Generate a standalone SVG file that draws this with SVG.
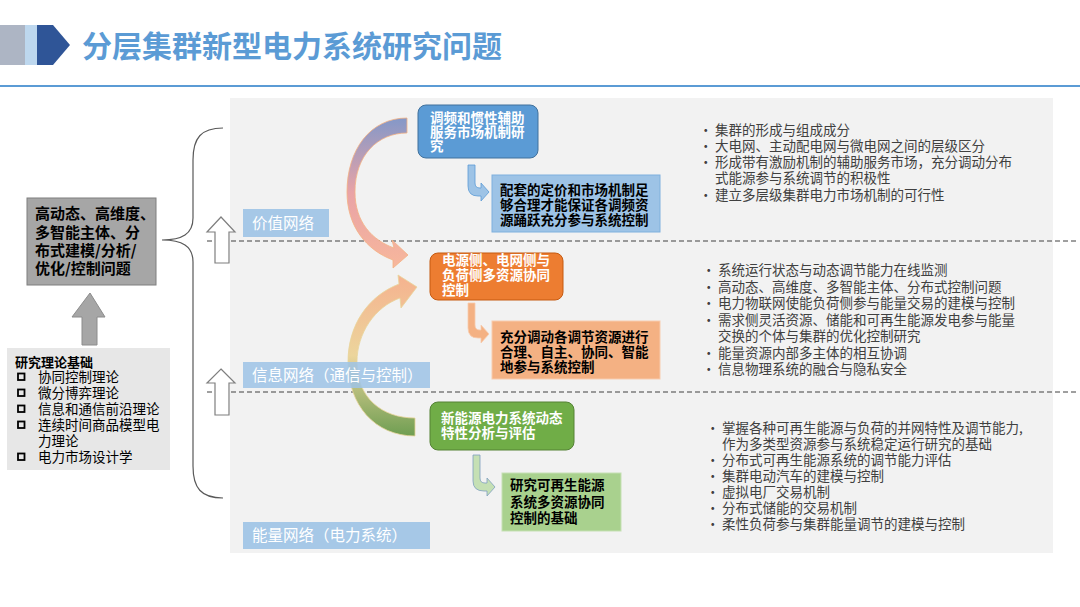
<svg xmlns="http://www.w3.org/2000/svg" width="1080" height="607" viewBox="0 0 1080 607">
<defs>
<style>
text{font-family:"Noto Sans CJK SC","Noto Sans",sans-serif}
.title{font-size:30px;font-weight:bold;fill:#5b9bd5}
.wb{font-size:13.5px;font-weight:bold;fill:#ffffff}
.kb{font-size:13.5px;font-weight:bold;fill:#000000}
.bl{font-size:13.5px;fill:#404040}
.lbl{font-size:15.5px;fill:#ffffff}
.dash{stroke:#404040;stroke-width:1;stroke-dasharray:5,3;fill:none}
.hollow{fill:#ffffff;stroke:#7f7f7f;stroke-width:1.2}
</style>
<linearGradient id="g1" x1="0" y1="0" x2="0" y2="1">
<stop offset="0" stop-color="#8498c8"/>
<stop offset="0.5" stop-color="#e9a3a6"/>
<stop offset="1" stop-color="#f7b79c"/>
</linearGradient>
<linearGradient id="g2" x1="0" y1="1" x2="0" y2="0">
<stop offset="0" stop-color="#6f9e52"/>
<stop offset="0.5" stop-color="#ecd59c"/>
<stop offset="1" stop-color="#f5b28f"/>
</linearGradient>
</defs>
<rect width="1080" height="607" fill="#ffffff"/>
<g id="header">
<rect x="0" y="25" width="25" height="40" fill="#adb5c4"/>
<rect x="25" y="25" width="12" height="40" fill="#bdd7ee"/>
<polygon points="37,25 53,25 70,45 53,65 37,65" fill="#2f5597"/>
<text class="title" x="82" y="57">分层集群新型电力系统研究问题</text>
<line x1="0" y1="86" x2="1080" y2="86" stroke="#5b9bd5" stroke-width="2"/>
</g>
<rect id="panel" x="230" y="98" width="823" height="455" fill="#f2f2f2"/>
<g id="layers">
<line class="dash" x1="207" y1="241" x2="1078" y2="241"/>
<line class="dash" x1="207" y1="392" x2="1078" y2="392"/>
</g>
<g id="connectors">
<path d="M223,128 C201,128 193,138 193,160 L193,218 C193,234 182,240 162,240 C182,240 193,246 193,262 L193,466 C193,488 201,498 223,498" fill="none" stroke="#595959" stroke-width="1.2"/>
<polygon class="hollow" points="221,217 235,232 229,232 229,263 215,263 215,232 207,232"/>
<polygon class="hollow" points="221,369 235,383 229,383 229,415 215,415 215,383 207,383"/>
<polygon points="90,293 105,317 97,317 97,345 82,345 82,317 72,317" fill="#a6a6a6" stroke="#8c8c8c" stroke-width="1"/>
<path d="M407,118 C370,118 347,150 347,192 C347,226 366,250 393,260 L393,268 L408,255 L392,240 L394,248 C372,240 355,222 355,192 C355,155 378,133 407,133 Z" fill="url(#g1)" stroke="#f4b183" stroke-width="0.8"/>
<path d="M415,436 C375,436 348,405 348,362 C348,325 368,296 399,284 L398,275 L417,287 L401,308 L400,298 C375,307 357,333 357,362 C357,398 382,418 415,418 Z" fill="url(#g2)" stroke="#e8d49a" stroke-width="0.8"/>
<path d="M468,165 L475,165 L475,183 Q475,188 480,188 L481,188 L481,183 L489,192 L481,201 L481,196 L478,196 Q468,196 468,186 Z" fill="#9dc3e6" stroke="#5b9bd5" stroke-width="0.8"/>
<path d="M468,303 L475,303 L475,325 Q475,330 480,330 L481,330 L481,325 L489,334 L481,343 L481,338 L478,338 Q468,338 468,328 Z" fill="#f4b183" stroke="#f8cbad" stroke-width="0.8"/>
<path d="M473,455 L480,455 L480,478 Q480,483 485,483 L487,483 L487,478 L495,487 L487,496 L487,491 L484,491 Q473,491 473,481 Z" fill="#c5e0b4" stroke="#7f9fbf" stroke-width="0.8"/>
</g>
<g id="label-value">
<rect x="243" y="209" width="86" height="28" fill="#9dc3e6" fill-opacity="0.9"/>
<text class="lbl" x="252" y="229">价值网络</text>
</g>
<g id="label-info">
<rect x="243" y="362" width="187" height="26" fill="#9dc3e6" fill-opacity="0.85"/>
<text class="lbl" x="252" y="381">信息网络（通信与控制）</text>
</g>
<g id="label-energy">
<rect x="243" y="522" width="187" height="27" fill="#9dc3e6" fill-opacity="0.9"/>
<text class="lbl" x="252" y="541">能量网络（电力系统）</text>
</g>
<g id="problem">
<rect x="27" y="198" width="129" height="87" fill="#a6a6a6" stroke="#7f7f7f" stroke-width="1"/>
<text x="35" y="219" style="font-size:15px;font-weight:bold;fill:#000">高动态、高维度、</text>
<text x="35" y="237.5" style="font-size:15px;font-weight:bold;fill:#000">多智能主体、分</text>
<text x="35" y="256" style="font-size:15px;font-weight:bold;fill:#000">布式建模/分析/</text>
<text x="35" y="274" style="font-size:15px;font-weight:bold;fill:#000">优化/控制问题</text>
</g>
<g id="theory">
<rect x="7" y="348" width="163" height="122" fill="#e7e7e7"/>
<text x="15" y="367" style="font-size:13px;font-weight:bold;fill:#000">研究理论基础</text>
<g fill="none" stroke="#000" stroke-width="1.8">
<rect x="18" y="373.5" width="6.5" height="6.5"/>
<rect x="18" y="389.5" width="6.5" height="6.5"/>
<rect x="18" y="405.5" width="6.5" height="6.5"/>
<rect x="18" y="421.5" width="6.5" height="6.5"/>
<rect x="18" y="453.5" width="6.5" height="6.5"/>
</g>
<text x="38" y="382" style="font-size:13.5px;fill:#000">协同控制理论</text>
<text x="38" y="398" style="font-size:13.5px;fill:#000">微分博弈理论</text>
<text x="38" y="414" style="font-size:13.5px;fill:#000">信息和通信前沿理论</text>
<text x="38" y="430" style="font-size:13.5px;fill:#000">连续时间商品模型电</text>
<text x="38" y="446" style="font-size:13.5px;fill:#000">力理论</text>
<text x="38" y="462" style="font-size:13.5px;fill:#000">电力市场设计学</text>
</g>
<g id="market">
<rect x="418" y="105" width="120" height="53" rx="8" fill="#5b9bd5" stroke="#41719c" stroke-width="1"/>
<text class="wb" x="430" y="123">调频和惯性辅助</text>
<text class="wb" x="430" y="137">服务市场机制研</text>
<text class="wb" x="430" y="151">究</text>
</g>
<g id="pricing">
<rect x="492" y="175" width="168" height="57" fill="#9dc3e6" stroke="#7fb0dd" stroke-width="1"/>
<text class="kb" x="500" y="195">配套的定价和市场机制足</text>
<text class="kb" x="500" y="210">够合理才能保证各调频资</text>
<text class="kb" x="500" y="225">源踊跃充分参与系统控制</text>
</g>
<g id="coord">
<rect x="430" y="253" width="133" height="47" rx="8" fill="#ed7d31" stroke="#c55a11" stroke-width="1"/>
<text class="wb" x="442" y="265">电源侧、电网侧与</text>
<text class="wb" x="442" y="280">负荷侧多资源协同</text>
<text class="wb" x="442" y="295">控制</text>
</g>
<g id="dispatch">
<rect x="492" y="321" width="168" height="58" fill="#f4b183" stroke="#f8cbad" stroke-width="1"/>
<text class="kb" x="500" y="342">充分调动各调节资源进行</text>
<text class="kb" x="500" y="357">合理、自主、协同、智能</text>
<text class="kb" x="500" y="372">地参与系统控制</text>
</g>
<g id="dynamics">
<rect x="430" y="402" width="144" height="48" rx="8" fill="#70ad47" stroke="#548235" stroke-width="1"/>
<text class="wb" x="441" y="423">新能源电力系统动态</text>
<text class="wb" x="441" y="438">特性分析与评估</text>
</g>
<g id="renewable">
<rect x="502" y="473" width="119" height="58" fill="#a9d18e" stroke="#c5e0b4" stroke-width="1"/>
<text class="kb" x="510" y="490">研究可再生能源</text>
<text class="kb" x="510" y="507">系统多资源协同</text>
<text class="kb" x="510" y="523">控制的基础</text>
</g>
<g id="bullets-value">
<text class="bl" x="699" y="135">•</text><text class="bl" x="715" y="135">集群的形成与组成成分</text>
<text class="bl" x="699" y="151">•</text><text class="bl" x="715" y="151">大电网、主动配电网与微电网之间的层级区分</text>
<text class="bl" x="699" y="167">•</text><text class="bl" x="715" y="167">形成带有激励机制的辅助服务市场，充分调动分布</text>
<text class="bl" x="715" y="183">式能源参与系统调节的积极性</text>
<text class="bl" x="699" y="200">•</text><text class="bl" x="715" y="200">建立多层级集群电力市场机制的可行性</text>
</g>
<g id="bullets-info">
<text class="bl" x="702" y="275">•</text><text class="bl" x="718" y="275">系统运行状态与动态调节能力在线监测</text>
<text class="bl" x="702" y="292">•</text><text class="bl" x="718" y="292">高动态、高维度、多智能主体、分布式控制问题</text>
<text class="bl" x="702" y="308">•</text><text class="bl" x="718" y="308">电力物联网使能负荷侧参与能量交易的建模与控制</text>
<text class="bl" x="702" y="325">•</text><text class="bl" x="718" y="325">需求侧灵活资源、储能和可再生能源发电参与能量</text>
<text class="bl" x="718" y="341">交换的个体与集群的优化控制研究</text>
<text class="bl" x="702" y="358">•</text><text class="bl" x="718" y="358">能量资源内部多主体的相互协调</text>
<text class="bl" x="702" y="374">•</text><text class="bl" x="718" y="374">信息物理系统的融合与隐私安全</text>
</g>
<g id="bullets-energy">
<text class="bl" x="706" y="433">•</text><text class="bl" x="722" y="433">掌握各种可再生能源与负荷的并网特性及调节能力,</text>
<text class="bl" x="722" y="449">作为多类型资源参与系统稳定运行研究的基础</text>
<text class="bl" x="706" y="465">•</text><text class="bl" x="722" y="465">分布式可再生能源系统的调节能力评估</text>
<text class="bl" x="706" y="481">•</text><text class="bl" x="722" y="481">集群电动汽车的建模与控制</text>
<text class="bl" x="706" y="497">•</text><text class="bl" x="722" y="497">虚拟电厂交易机制</text>
<text class="bl" x="706" y="513">•</text><text class="bl" x="722" y="513">分布式储能的交易机制</text>
<text class="bl" x="706" y="529">•</text><text class="bl" x="722" y="529">柔性负荷参与集群能量调节的建模与控制</text>
</g>
</svg>
